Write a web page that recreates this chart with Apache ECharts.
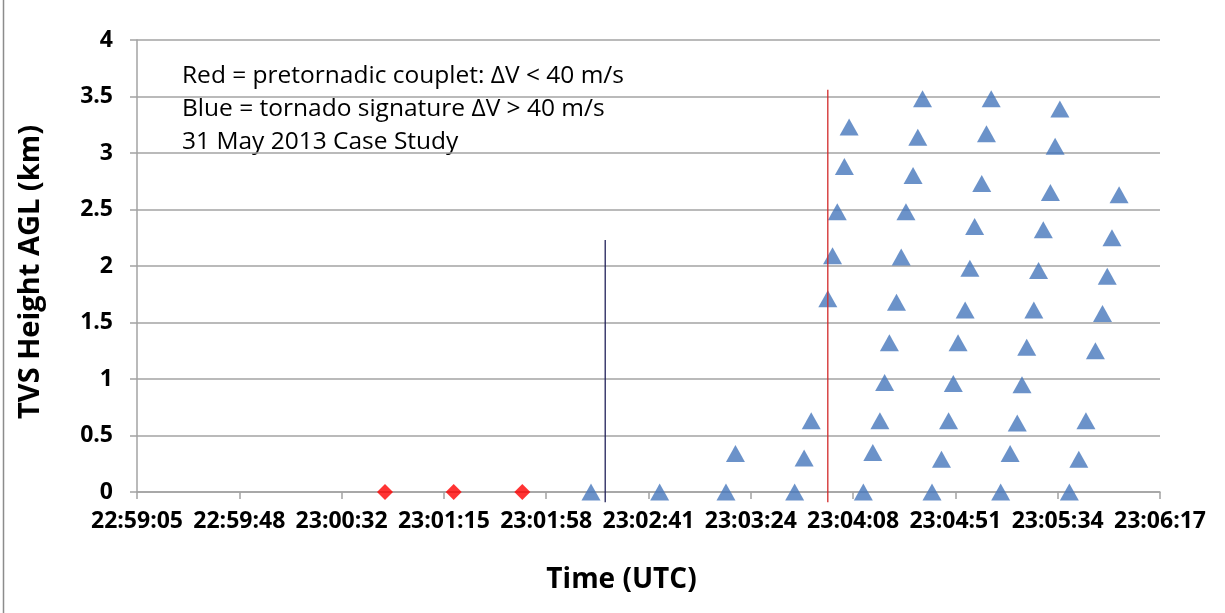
<!DOCTYPE html>
<html>
<head>
<meta charset="utf-8">
<title>TVS Height AGL</title>
<script src="https://cdn.jsdelivr.net/npm/echarts@6/dist/echarts.min.js"></script>
<style>
html, body { margin: 0; padding: 0; background: #fff; }
#chart { width: 1225px; height: 613px; }
</style>
</head>
<body>
<div id="chart"></div>
<script>
// time axis: starts 22:59:05.28, one major unit = 43.2 s (0.0005 day)
var axisStart = '22:59:05.28';
var axisSpan = 432;
var axisStep = 43.2;
var heightMin = 0, heightMax = 4, heightStep = 0.5;

// red diamonds - pretornadic couplet
var redTimes = ['23:00:50', '23:01:19', '23:01:48'];
var redHeights = [0, 0, 0];

// blue triangles - tornado signature, one line per volume scan
var blueTimes = [
    '23:02:17',
    '23:02:46',
    '23:03:14', '23:03:18',
    '23:03:43', '23:03:47', '23:03:50', '23:03:57', '23:03:59', '23:04:01', '23:04:04', '23:04:06',
    '23:04:12', '23:04:16', '23:04:19', '23:04:21', '23:04:23', '23:04:26', '23:04:28', '23:04:30', '23:04:33', '23:04:35', '23:04:37',
    '23:04:41', '23:04:45', '23:04:48', '23:04:50', '23:04:52', '23:04:55', '23:04:57', '23:04:59', '23:05:02', '23:05:04', '23:05:06',
    '23:05:10', '23:05:14', '23:05:17', '23:05:19', '23:05:21', '23:05:24', '23:05:26', '23:05:28', '23:05:31', '23:05:33', '23:05:35',
    '23:05:39', '23:05:43', '23:05:46', '23:05:50', '23:05:53', '23:05:55', '23:05:57', '23:06:00'
];
var blueHeights = [
    0,
    0,
    0, 0.34,
    0, 0.30, 0.63, 1.71, 2.09, 2.48, 2.88, 3.23,
    0, 0.35, 0.63, 0.97, 1.32, 1.68, 2.08, 2.48, 2.80, 3.14, 3.48,
    0, 0.29, 0.63, 0.96, 1.32, 1.61, 1.98, 2.35, 2.73, 3.17, 3.48,
    0, 0.34, 0.61, 0.95, 1.28, 1.61, 1.96, 2.32, 2.65, 3.06, 3.39,
    0, 0.29, 0.63, 1.25, 1.58, 1.91, 2.25, 2.63
];

// the two vertical marker lines (dark blue, red)
var markTimes = ['23:02:23', '23:03:57'];
var markTops = [2.23, 3.56];
var markBottom = -0.09;

var noteLines = [
    'Red = pretornadic couplet: \u0394V < 40 m/s',
    'Blue = tornado signature \u0394V > 40 m/s',
    '31 May 2013 Case Study'
];

function toSec(str) {
    var p = str.split(':');
    return (+p[0]) * 3600 + (+p[1]) * 60 + parseFloat(p[2]);
}
var startSec = toSec(axisStart);
function offset(str) {
    return toSec(str) - startSec;
}
function pad(n) {
    return (n < 10 ? '0' : '') + n;
}
function timeLabel(v) {
    var s = Math.round(startSec + v);
    return pad(Math.floor(s / 3600)) + ':' + pad(Math.floor(s / 60) % 60) + ':' + pad(s % 60);
}

var font = '"Open Sans", "Liberation Sans", sans-serif';
var gridGrey = '#a3a3a3';

var redData = redTimes.map(function (t, i) { return [offset(t), redHeights[i]]; });
var blueData = blueTimes.map(function (t, i) { return [offset(t), blueHeights[i]]; });

var chart = echarts.init(document.getElementById('chart'));
var option = {
    animation: false,
    backgroundColor: '#fff',
    grid: { left: 137, right: 65, top: 40, bottom: 121 },
    xAxis: {
        type: 'value',
        min: 0,
        max: axisSpan,
        interval: axisStep,
        name: 'Time (UTC)',
        nameLocation: 'middle',
        nameGap: 74,
        nameTextStyle: { fontFamily: font, fontSize: 28, fontWeight: 'bold', color: '#000', padding: [0, 54, 0, 0] },
        axisLine: { lineStyle: { color: gridGrey, width: 1.5 } },
        axisTick: { show: true, length: 7, lineStyle: { color: gridGrey, width: 1.5 } },
        axisLabel: {
            fontFamily: font, fontSize: 23, fontWeight: 'bold', color: '#000', margin: 18,
            showMinLabel: true, showMaxLabel: true,
            formatter: timeLabel
        },
        splitLine: { show: false }
    },
    yAxis: {
        type: 'value',
        min: heightMin,
        max: heightMax,
        interval: heightStep,
        name: 'TVS Height AGL (km)',
        nameLocation: 'middle',
        nameGap: 92,
        nameTextStyle: { fontFamily: font, fontSize: 29, fontWeight: 'bold', color: '#000', padding: [0, 12, 0, 0] },
        axisLine: { show: true, lineStyle: { color: gridGrey, width: 1.5 } },
        axisTick: { show: true, length: 7, lineStyle: { color: gridGrey, width: 1.5 } },
        axisLabel: { fontFamily: font, fontSize: 23, fontWeight: 'bold', color: '#000', margin: 24 },
        splitLine: { show: true, lineStyle: { color: gridGrey, width: 1.5 } }
    },
    series: [
        {
            name: 'pretornadic couplet',
            type: 'scatter',
            symbol: 'diamond',
            symbolSize: 16,
            itemStyle: { color: '#ff0000' },
            data: redData
        },
        {
            name: 'tornado signature',
            type: 'scatter',
            symbol: 'triangle',
            symbolSize: [19, 17],
            itemStyle: { color: '#4677bb' },
            data: blueData
        },
        {
            type: 'line',
            symbol: 'none',
            clip: false,
            lineStyle: { color: '#22225a', width: 1.3 },
            data: [[offset(markTimes[0]), markBottom], [offset(markTimes[0]), markTops[0]]]
        },
        {
            type: 'line',
            symbol: 'none',
            clip: false,
            lineStyle: { color: '#d22a2a', width: 1.3 },
            data: [[offset(markTimes[1]), markBottom], [offset(markTimes[1]), markTops[1]]]
        }
    ],
    graphic: [
        {
            type: 'line',
            shape: { x1: 3.5, y1: 0, x2: 3.5, y2: 613 },
            style: { stroke: '#8c8c8c', lineWidth: 1.5 }
        },
        {
            type: 'text',
            left: 182,
            top: 60,
            style: {
                text: noteLines.join('\n'),
                font: '24.5px ' + font,
                lineHeight: 33,
                fill: '#000'
            }
        }
    ]
};
chart.setOption(option);
</script>
</body>
</html>
